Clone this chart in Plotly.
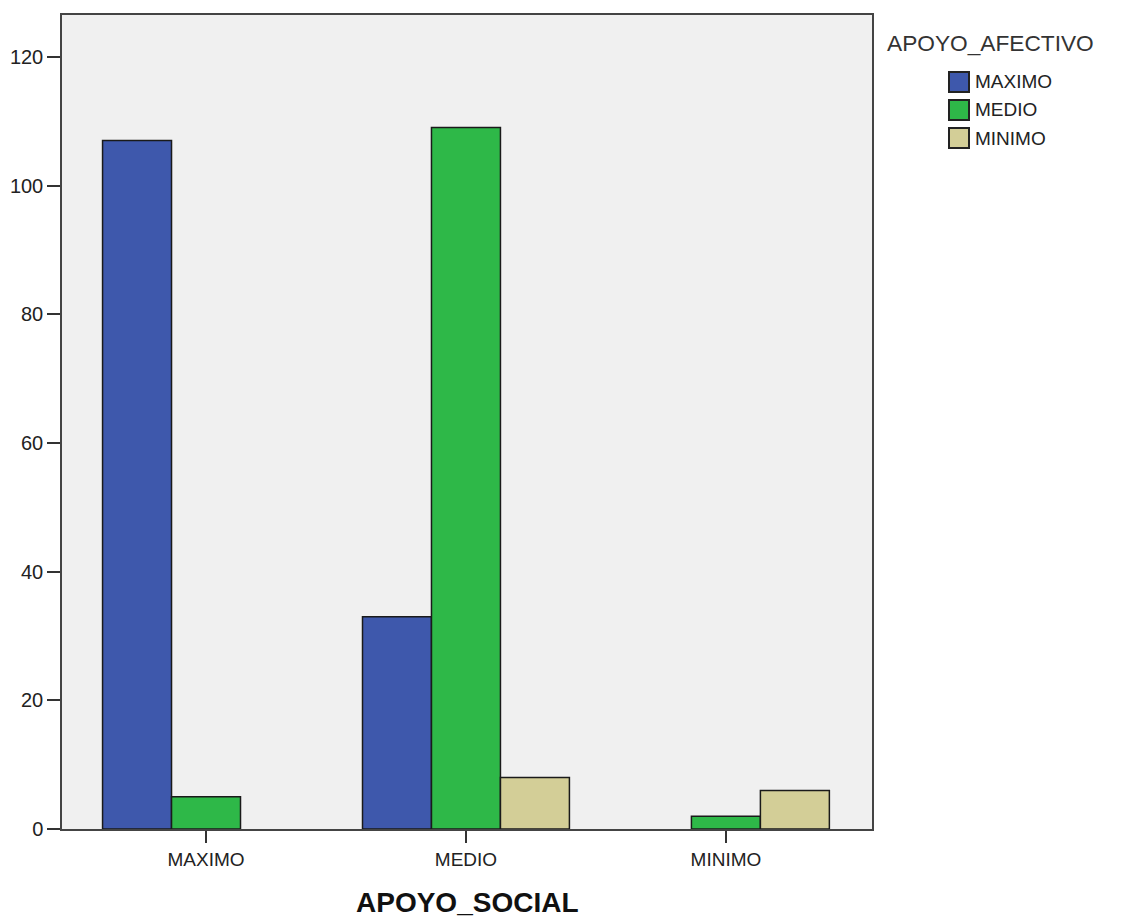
import plotly.graph_objects as go

categories = ["MAXIMO", "MEDIO", "MINIMO"]
series_names = ["MAXIMO", "MEDIO", "MINIMO"]
maximo_vals = [107, 33, None]
medio_vals = [5, 109, 2]
minimo_vals = [None, 8, 6]
y_ticks = [0, 20, 40, 60, 80, 100, 120]
legend_title = "APOYO_AFECTIVO"
x_title = "APOYO_SOCIAL"

colors = ["#3e58ac", "#2eb848", "#d3ce97"]
values = [maximo_vals, medio_vals, minimo_vals]

# page offset of the figure (body margin)
OFF = 8
W, H = 1124 - OFF, 918 - OFF
L, R, T, B = 62, 872, 15, 829  # plot area in page pixels


def px(X):
    return (X - L) / (R - L)


def py(Y):
    return 1 - (Y - T) / (B - T)


fig = go.Figure()
for name, vals, col in zip(series_names, values, colors):
    fig.add_trace(go.Bar(
        x=categories, y=vals, name=name, showlegend=False,
        marker=dict(color=col, line=dict(color="#1a1a1a", width=1.5)),
    ))

shapes = []
annotations = []
# legend (drawn manually to match large swatches)
row_y = [82, 110, 138]
for name, col, yc in zip(series_names, colors, row_y):
    shapes.append(dict(type="rect", xref="paper", yref="paper",
                       x0=px(949), x1=px(969), y0=py(yc - 10), y1=py(yc + 10),
                       fillcolor=col, line=dict(color="#222", width=2)))
    annotations.append(dict(text=name, xref="paper", yref="paper",
                            x=px(973), y=py(yc), xanchor="left", yanchor="middle",
                            showarrow=False, font=dict(size=19, color="#222")))
annotations.append(dict(text=legend_title, xref="paper", yref="paper",
                        x=px(885), y=py(43), xanchor="left", yanchor="middle",
                        showarrow=False, font=dict(size=22.7, color="#333")))
annotations.append(dict(text="<b>" + x_title + "</b>", xref="paper", yref="paper",
                        x=0.5, y=py(902), xanchor="center", yanchor="middle",
                        showarrow=False, font=dict(size=28, color="#111")))

fig.update_layout(
    width=W, height=H,
    margin=dict(l=L - OFF, r=W - (R - OFF), t=T - OFF, b=H - (B - OFF), autoexpand=False),
    paper_bgcolor="white",
    plot_bgcolor="#f0f0f0",
    barmode="group",
    bargap=0.204,
    bargroupgap=0,
    font=dict(family="Liberation Sans, Arial, sans-serif", color="#222", size=19),
    showlegend=False,
    shapes=shapes,
    annotations=annotations,
)

fig.update_xaxes(
    type="category", range=[-0.554, 2.562],
    showline=True, linecolor="#444", linewidth=1.5, mirror=True,
    ticks="outside", ticklen=12, tickcolor="#333", tickwidth=2,
    showgrid=False, tickfont=dict(size=19, color="#222"),
)
fig.update_yaxes(
    range=[0, 126.5], tickvals=y_ticks,
    showline=True, linecolor="#444", linewidth=1.5, mirror=True,
    ticks="outside", ticklen=13, tickcolor="#333", tickwidth=2,
    showgrid=False, zeroline=False, tickfont=dict(size=20, color="#222"),
)

fig.write_html("out.html")
